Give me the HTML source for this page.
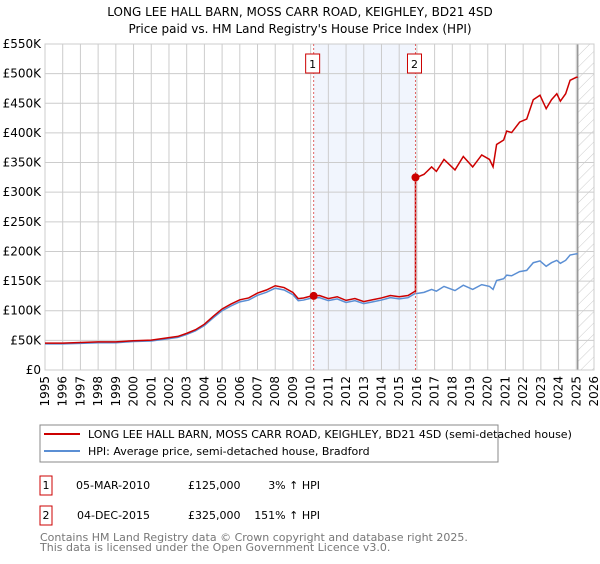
<!DOCTYPE html>
<html><head><meta charset="utf-8"><style>
body{margin:0;background:#fff;font-family:"DejaVu Sans","Liberation Sans",sans-serif;}
svg text{font-family:"DejaVu Sans","Liberation Sans",sans-serif;}
</style></head><body>
<svg id="c" width="600" height="560" xmlns="http://www.w3.org/2000/svg">
<defs><pattern id="hatch" width="8" height="8" patternUnits="userSpaceOnUse" patternTransform="rotate(45)"><line x1="0" y1="0" x2="0" y2="8" stroke="#ccc" stroke-width="1"/></pattern></defs>
<text x="300" y="16" text-anchor="middle" font-size="12">LONG LEE HALL BARN, MOSS CARR ROAD, KEIGHLEY, BD21 4SD</text>
<text x="300" y="33" text-anchor="middle" font-size="12">Price paid vs. HM Land Registry's House Price Index (HPI)</text>
<g id="grid"></g><g id="marks"></g><g id="axes"></g>
<rect x="40" y="425" width="458" height="37" fill="none" stroke="#888"/>
<line x1="44" y1="434" x2="80" y2="434" stroke="#cc0000" stroke-width="2"/>
<text x="88" y="438" font-size="11">LONG LEE HALL BARN, MOSS CARR ROAD, KEIGHLEY, BD21 4SD (semi-detached house)</text>
<line x1="44" y1="451" x2="80" y2="451" stroke="#5b8fd4" stroke-width="2"/>
<text x="88" y="455" font-size="11">HPI: Average price, semi-detached house, Bradford</text>
<g font-size="11">
<rect x="40" y="476" width="12" height="19" fill="none" stroke="#cc0000"/><text x="46" y="489" text-anchor="middle">1</text>
<text x="76" y="489">05-MAR-2010</text><text x="188" y="489">£125,000</text><text x="320" y="489" text-anchor="end">3% ↑ HPI</text></g>
<g font-size="11">
<rect x="40" y="506" width="12" height="19" fill="none" stroke="#cc0000"/><text x="46" y="519" text-anchor="middle">2</text>
<text x="77" y="519">04-DEC-2015</text><text x="188" y="519">£325,000</text><text x="320" y="519" text-anchor="end">151% ↑ HPI</text></g>
<text x="40" y="541" font-size="11" fill="#777">Contains HM Land Registry data © Crown copyright and database right 2025.</text>
<text x="40" y="551" font-size="11" fill="#777">This data is licensed under the Open Government Licence v3.0.</text>
</svg>
<script>
const hpiYears=[1995,1996,1997,1998,1999,2000,2001,2002,2002.5,2003,2003.5,2004,2004.5,2005,2005.5,2006,2006.5,2007,2007.5,2008,2008.5,2009,2009.3,2009.6,2010,2010.5,2011,2011.5,2012,2012.5,2013,2013.5,2014,2014.5,2015,2015.5,2015.9,2016,2016.4,2016.83,2017.1,2017.53,2018.15,2018.62,2019.15,2019.66,2020.1,2020.3,2020.5,2020.9,2021.07,2021.35,2021.8,2022.2,2022.57,2022.95,2023.3,2023.6,2023.9,2024.1,2024.4,2024.65,2025,2025.08];
const hpiValues=[44,44,45,46,46,48,49,53,55,60,66,75,88,100,108,115,118,126,131,138,135,127,117,118,121,122,117,120,114,117,112,115,118,122,120,122,129,129,131,136,133,141,134,143,136,144,141,136,151,154,160,159,166,168,181,184,175,181,185,180,185,194,196,196];
const saleYears=[2010.17,2015.92];
const salePrices=[125,325];
const saleLabels=["1","2"];
const yTicks=[0,50,100,150,200,250,300,350,400,450,500,550];
const yTickLabels=["£0","£50K","£100K","£150K","£200K","£250K","£300K","£350K","£400K","£450K","£500K","£550K"];
const xTicks=[1995,1996,1997,1998,1999,2000,2001,2002,2003,2004,2005,2006,2007,2008,2009,2010,2011,2012,2013,2014,2015,2016,2017,2018,2019,2020,2021,2022,2023,2024,2025,2026];
const L=45,R=594,T=44,B=370,X0=1995,X1=2026,YMAX=550;
const sx=v=>L+(v-X0)/(X1-X0)*(R-L);
const sy=v=>B-v/YMAX*(B-T);
const NS="http://www.w3.org/2000/svg";
function mk(tag,at,parent){const e=document.createElementNS(NS,tag);for(const k in at)e.setAttribute(k,at[k]);parent.appendChild(e);return e;}
const grid=document.getElementById('grid'),marks=document.getElementById('marks'),axes=document.getElementById('axes');
const dataEnd=hpiYears[hpiYears.length-1];
let r=mk('rect',{x:sx(saleYears[0]),y:T,width:sx(saleYears[1])-sx(saleYears[0]),height:B-T,fill:'#eef3fc',opacity:0.8},grid);


yTicks.forEach((t,i)=>{
 const g=mk('line',{x1:L,x2:R,y1:sy(t),y2:sy(t),stroke:'#ccc'},grid);
 
 
 const tx=mk('text',{x:L-4,y:sy(t)+4,'text-anchor':'end','font-size':12},axes);tx.textContent=yTickLabels[i];
 
 
});
xTicks.forEach(t=>{
 const g=mk('line',{x1:sx(t),x2:sx(t),y1:T,y2:B,stroke:'#ccc'},grid);
 
 
 const tx=mk('text',{x:0,y:0,'text-anchor':'end','font-size':12,transform:`translate(${sx(t)+4},${B+6}) rotate(-90)`},axes);tx.textContent=t;
 
 
});
let h=mk('rect',{x:sx(dataEnd),y:T,width:R-sx(dataEnd),height:B-T,fill:'url(#hatch)'},grid);


let el=mk('line',{x1:sx(dataEnd),x2:sx(dataEnd),y1:T,y2:B,stroke:'#999','stroke-width':1.5},grid);


let bd=mk('rect',{x:L,y:T,width:R-L,height:B-T,fill:'none',stroke:'#ccc'},grid);


function hpiAt(y){for(let i=0;i<hpiYears.length-1;i++){if(y<=hpiYears[i+1]){const f=(y-hpiYears[i])/(hpiYears[i+1]-hpiYears[i]);return hpiValues[i]+f*(hpiValues[i+1]-hpiValues[i]);}}return hpiValues[hpiValues.length-1];}
let hp=mk('polyline',{points:hpiYears.map((y,i)=>sx(y)+','+sy(hpiValues[i])).join(' '),fill:'none',stroke:'#5b8fd4','stroke-width':1.5},marks);


const f1=salePrices[0]/hpiAt(saleYears[0]),f2=salePrices[1]/hpiAt(saleYears[1]);
let pts=[];
hpiYears.forEach((y,i)=>{if(y<saleYears[1])pts.push(sx(y)+','+sy(hpiValues[i]*f1));});
pts.push(sx(saleYears[1])+','+sy(hpiAt(saleYears[1])*f1));
pts.push(sx(saleYears[1])+','+sy(salePrices[1]));
hpiYears.forEach((y,i)=>{if(y>saleYears[1])pts.push(sx(y)+','+sy(hpiValues[i]*f2));});
let pl=mk('polyline',{points:pts.join(' '),fill:'none',stroke:'#cc0000','stroke-width':1.5},marks);


saleYears.forEach((y,i)=>{
 const v=mk('line',{x1:sx(y),x2:sx(y),y1:T,y2:B,stroke:'#e06666','stroke-dasharray':'2,2','stroke-width':1},marks);
 
 
 const d=mk('circle',{cx:sx(y),cy:sy(salePrices[i]),r:4,fill:'#cc0000'},marks);
 
 
 const b=mk('rect',{x:sx(y)-8,y:T+10,width:14,height:19,fill:'#fff',stroke:'#cc0000'},marks);
 
 
 const t=mk('text',{x:sx(y)-1,y:T+24,'text-anchor':'middle','font-size':11},marks);t.textContent=saleLabels[i];
 
 
});
</script>
</body></html>
